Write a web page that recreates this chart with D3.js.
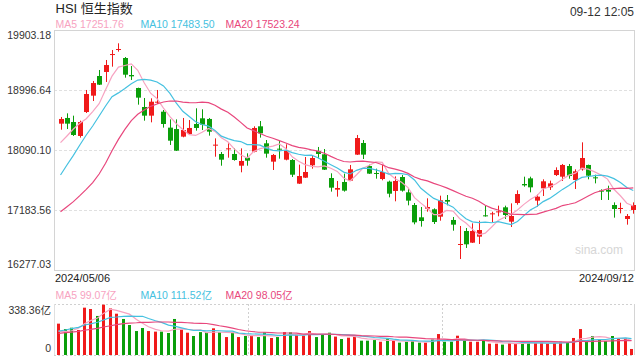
<!DOCTYPE html>
<html>
<head>
<meta charset="utf-8">
<script src="https://cdn.jsdelivr.net/npm/d3@7"></script>
<style>
  body { margin: 0; background: #fff; }
  text { font-family: "Liberation Sans", Arial, "Noto Sans CJK SC", sans-serif; }
</style>
</head>
<body>
<div id="container"></div>
<script>
// daily candles 2024/05/06 - 2024/09/12
let dateLabels = ["2024/05/06", "2024/09/12"];

let openV = [18488,18574,18513,18302,18664,18911,19208,19269,19525,19601,
  19480,19223,19027,18740,18609,18805,18669,18428,18407,18292,
  18332,18483,18569,18559,18156,18030,18100,18030,17853,17974,
  18065,18448,18191,17914,18110,17944,17939,17582,17672,17859,
  18075,18025,17667,17491,17607,17627,18020,18196,17848,17743,
  17652,17612,17471,17682,17451,17259,17073,17204,17194,17083,
  17335,17033,16655,16866,16690,16781,17103,17118,17148,17224,
  17007,17289,17576,17662,17325,17511,17526,17712,17687,17848,
  17637,17798,17864,17677,17476,17486,17259,17199,17048,17184];

let highV = [18589,18644,18609,18533,18997,19133,19299,19450,19601,19702,
  19495,19359,19032,18876,18871,18997,18694,18553,18553,18574,
  18543,18720,18705,18574,18266,18060,18191,18115,18115,18040,
  18448,18528,18241,18030,18226,18176,17954,17869,17984,18000,
  18136,18105,17738,17622,17733,17864,18317,18241,17869,17808,
  17864,17627,17692,17712,17511,17289,17229,17360,17209,17400,
  17410,17078,16942,16912,16982,17022,17244,17158,17249,17249,
  17284,17481,17687,17687,17420,17647,17627,17828,17879,17879,
  17798,18206,17869,17717,17496,17551,17299,17294,17123,17299];

let lowV = [18397,18407,18302,18277,18649,18830,19072,19118,19349,19576,
  19183,19148,18775,18533,18508,18785,18428,18166,18075,18282,
  18322,18382,18392,18307,17989,17853,17974,17929,17753,17853,
  18055,18277,17974,17788,17959,17934,17682,17577,17667,17808,
  17964,17788,17461,17385,17461,17622,18015,17954,17728,17657,
  17632,17375,17315,17461,17254,16967,16932,17158,16972,17022,
  17254,16871,16443,16610,16685,16670,17083,16997,17088,17048,
  16927,17264,17536,17451,17234,17395,17486,17697,17622,17657,
  17501,17778,17647,17586,17335,17335,17068,17133,16962,17128];

let closeV = [18559,18488,18317,18513,18936,19102,19077,19374,19540,19616,
  19228,19203,18881,18609,18820,18820,18483,18231,18080,18392,
  18423,18423,18473,18367,18171,17944,18115,17939,17924,17929,
  18423,18342,18035,18015,18095,18080,17717,17697,17758,17969,
  18030,17793,17521,17516,17476,17798,18271,18020,17733,17733,
  17758,17430,17622,17476,17325,16997,17017,17229,17002,17330,
  17310,16962,16670,16665,16866,16881,17088,17133,17163,17108,
  17093,17425,17556,17526,17385,17617,17586,17788,17864,17697,
  17768,17969,17702,17662,17461,17461,17199,17214,17093,17259];

let ma5 = [18201,18302,18407,18493,18563,18671,18789,19000,19206,19342,
  19367,19392,19294,19107,18948,18867,18723,18593,18487,18401,
  18322,18310,18358,18416,18371,18276,18214,18107,18019,17970,
  18066,18111,18131,18149,18182,18113,17988,17921,17869,17844,
  17834,17849,17814,17766,17667,17621,17716,17816,17860,17911,
  17903,17735,17655,17604,17522,17370,17287,17209,17114,17115,
  17178,17167,17055,16987,16895,16809,16834,16927,17026,17075,
  17117,17184,17269,17342,17397,17502,17534,17580,17648,17710,
  17741,17817,17800,17760,17712,17651,17497,17399,17286,17245];

let ma10 = [17712,17863,18010,18166,18317,18453,18604,18755,18896,18953,
  19019,19091,19147,19157,19145,19117,19058,18944,18797,18675,
  18595,18517,18476,18452,18386,18299,18262,18233,18218,18171,
  18171,18163,18119,18084,18076,18090,18050,18026,18009,18013,
  17974,17919,17868,17818,17756,17728,17783,17815,17813,17789,
  17762,17726,17736,17732,17717,17637,17511,17432,17359,17319,
  17274,17227,17132,17051,17005,16994,17001,16991,17007,16985,
  16963,17009,17098,17184,17236,17310,17359,17425,17495,17554,
  17622,17676,17690,17704,17711,17696,17657,17600,17523,17479];

let ma20 = [17158,17234,17310,17400,17496,17597,17727,17889,18080,18251,
  18402,18533,18629,18694,18750,18785,18815,18830,18830,18814,
  18807,18804,18812,18805,18766,18708,18660,18589,18508,18423,
  18383,18340,18298,18268,18231,18195,18156,18130,18114,18092,
  18073,18041,17994,17951,17916,17909,17917,17921,17911,17901,
  17868,17823,17802,17775,17737,17683,17647,17624,17586,17554,
  17518,17477,17434,17392,17361,17316,17256,17212,17183,17152,
  17119,17118,17115,17118,17121,17152,17180,17208,17251,17270,
  17293,17343,17394,17444,17474,17503,17508,17513,17509,17517];

// turnover, 亿
let vol = [208,172,181,166,314,305,259,334,309,274,
  239,199,159,179,159,155,155,146,239,168,
  148,126,152,150,177,152,119,148,119,126,
  128,119,150,113,119,152,150,137,128,159,
  119,137,148,122,106,115,122,95,95,99,
  88,108,95,82,88,95,82,82,102,139,
  88,88,128,95,88,88,95,75,75,69,
  80,80,82,82,80,84,75,80,88,86,
  113,172,93,126,104,93,126,108,113,40];

let volMa5 = [159,155,161,177,208,228,245,276,304,296,
  283,271,236,210,187,170,161,159,171,173,
  171,165,167,149,151,151,150,149,143,133,
  128,128,128,127,126,131,137,134,137,145,
  139,136,138,137,126,126,123,112,107,105,
  100,97,97,94,92,94,88,86,90,100,
  99,100,109,108,97,97,99,88,84,80,
  79,76,77,79,81,82,81,80,81,83,
  88,108,110,118,122,118,108,111,109,96];

let volMa10 = [159,166,175,183,199,206,217,232,250,252,
  256,258,256,257,242,227,216,198,191,180,
  171,163,163,160,162,161,158,158,146,142,
  140,139,139,135,130,130,133,131,132,136,
  135,137,136,137,136,133,130,125,122,116,
  113,110,105,101,99,97,93,92,92,96,
  97,94,98,99,99,98,100,99,96,89,
  88,88,83,82,81,81,79,79,80,82,
  85,95,95,100,103,103,108,111,114,109];

let volMa20 = [144,148,152,157,164,170,177,186,194,201,
  208,212,214,217,217,219,219,219,217,216,
  214,211,210,209,202,194,187,178,169,161,
  156,151,151,148,146,146,146,145,139,139,
  138,138,138,136,133,132,132,128,127,126,
  124,124,121,119,118,115,112,109,107,106,
  105,102,102,100,99,98,97,96,94,93,
  93,91,91,91,90,90,90,89,88,86,
  87,92,89,91,92,92,94,95,97,96];

let yTicks = [19903.18, 18996.64, 18090.10, 17183.56, 16277.03];
let volTicks = [0, 338.36];

let legendMain = ["MA5 17251.76", "MA10 17483.50", "MA20 17523.24"];
let legendVol = ["MA5 99.07亿", "MA10 111.52亿", "MA20 98.05亿"];

let w = 640;
let h = 360;
let pl = 54, pr = 634, pt = 30, pb = 270;
let vt = 304, vb = 355;
let upColor = "#f01a1a", downColor = "#0a9e0a";
let maColors = ["#f7a3c1", "#45c1e0", "#e8477d"];

let viz = d3.select("#container").append("svg")
    .attr("width", w)
    .attr("height", h)
    .style("display", "block")
;

let x = d3.scaleBand().domain(d3.range(closeV.length)).range([57.3, 636.5]);
let cx = i => x(i) + x.bandwidth() / 2;
let y = d3.scaleLinear().domain([16277.03, 19903.18]).range([pb, pt]);
let yv = d3.scaleLinear().domain([0, 338.36]).range([vb, vt]);

// header
viz.append("text").attr("x", 55.5).attr("y", 13).attr("font-size", 13).attr("fill", "#222")
  .text("HSI 恒生指数");
viz.append("text").attr("x", 634).attr("y", 15.5).attr("font-size", 12).attr("fill", "#333")
  .attr("text-anchor", "end").text("09-12 12:05");

let legX = [55.5, 140.5, 225.5];
viz.selectAll(".legm").data(legendMain).enter().append("text")
  .attr("x", (d, i) => legX[i]).attr("y", 27.5)
  .attr("font-size", 10.5).attr("fill", (d, i) => maColors[i])
  .text(d => d);
viz.selectAll(".legv").data(legendVol).enter().append("text")
  .attr("x", (d, i) => legX[i]).attr("y", 298.5)
  .attr("font-size", 10.5).attr("fill", (d, i) => maColors[i])
  .text(d => d);

// grid main
viz.selectAll(".grid").data(yTicks.slice(1, 4)).enter().append("line")
  .attr("x1", pl).attr("x2", pr)
  .attr("y1", d => Math.round(y(d)) + 0.5).attr("y2", d => Math.round(y(d)) + 0.5)
  .attr("stroke", "#e0e0e0").attr("stroke-dasharray", "3,2");

viz.append("rect").attr("x", pl + 0.5).attr("y", pt + 0.5)
  .attr("width", pr - pl).attr("height", pb - pt)
  .attr("fill", "none").attr("stroke", "#d4d4d4");

// axes
let yAxis = viz.append("g").attr("transform", `translate(${pl},0)`)
  .call(d3.axisLeft(y).tickValues(yTicks).tickSize(0).tickPadding(3).tickFormat(d3.format(".2f")));
yAxis.select(".domain").remove();
yAxis.selectAll("text").attr("font-size", 10.5).attr("fill", "#333")
  .attr("font-family", null)
  .attr("dy", (d, i) => i == 0 ? 8.6 : (i == yTicks.length - 1 ? -2.6 : 3.4));

// watermark
viz.append("text").attr("x", 623).attr("y", 254).attr("font-size", 12)
  .attr("fill", "#d6d6d6").attr("text-anchor", "end").text("sina.com");

// candles
let candles = viz.selectAll(".candle").data(closeV).enter().append("g").attr("class", "candle");
candles.append("line")
  .attr("x1", (d, i) => Math.round(cx(i)) + 0.5).attr("x2", (d, i) => Math.round(cx(i)) + 0.5)
  .attr("y1", (d, i) => y(highV[i])).attr("y2", (d, i) => y(lowV[i]))
  .attr("stroke", (d, i) => d >= openV[i] ? upColor : downColor);
candles.append("rect")
  .attr("x", (d, i) => Math.round(cx(i)) - 2)
  .attr("y", (d, i) => y(Math.max(d, openV[i])))
  .attr("width", 5)
  .attr("height", (d, i) => Math.max(1, Math.abs(y(d) - y(openV[i]))))
  .attr("fill", (d, i) => d >= openV[i] ? upColor : downColor);

// moving averages
let lineMain = d3.line().x((d, i) => cx(i)).y(d => y(d));
[ma5, ma10, ma20].forEach(function(arr, k) {
  viz.append("path").attr("d", lineMain(arr))
    .attr("fill", "none").attr("stroke", maColors[k]).attr("stroke-width", 1.2);
});

// date labels
viz.append("text").attr("x", 55).attr("y", 282).attr("font-size", 11).attr("fill", "#222")
  .text(dateLabels[0]);
viz.append("text").attr("x", 634).attr("y", 282).attr("font-size", 11).attr("fill", "#222")
  .attr("text-anchor", "end").text(dateLabels[1]);

// volume panel
viz.append("line").attr("x1", pl).attr("x2", pr).attr("y1", vt + 0.5).attr("y2", vt + 0.5)
  .attr("stroke", "#d0d0d0").attr("stroke-dasharray", "2,2");
viz.append("line").attr("x1", pl).attr("x2", pr).attr("y1", vb + 0.5).attr("y2", vb + 0.5)
  .attr("stroke", "#d0d0d0").attr("stroke-dasharray", "2,2");
[248.5, 442.5].forEach(function(gx) {
  viz.append("line").attr("x1", gx).attr("x2", gx).attr("y1", vt).attr("y2", vb)
    .attr("stroke", "#d0d0d0").attr("stroke-dasharray", "2,2");
});
viz.append("line").attr("x1", pl + 0.5).attr("x2", pl + 0.5).attr("y1", vt).attr("y2", vb)
  .attr("stroke", "#e0e0e0");
viz.append("line").attr("x1", pr + 0.5).attr("x2", pr + 0.5).attr("y1", vt).attr("y2", vb)
  .attr("stroke", "#d4d4d4");

let vAxis = viz.append("g").attr("transform", `translate(${pl},0)`)
  .call(d3.axisLeft(yv).tickValues(volTicks).tickSize(0).tickPadding(3)
    .tickFormat(d => d ? d.toFixed(2) + "亿" : "0"));
vAxis.select(".domain").remove();
vAxis.selectAll("text").attr("font-size", 10.5).attr("fill", "#333")
  .attr("font-family", null)
  .attr("dy", (d, i) => i == 0 ? -3.3 : 9.1);

viz.selectAll(".vbar").data(vol).enter().append("rect")
  .attr("x", (d, i) => Math.round(x(i)))
  .attr("y", d => yv(d))
  .attr("width", 3)
  .attr("height", d => vb - yv(d))
  .attr("fill", (d, i) => closeV[i] >= openV[i] ? upColor : downColor);

let lineVol = d3.line().x((d, i) => Math.round(x(i)) + 1.5).y(d => yv(d));
[volMa5, volMa10, volMa20].forEach(function(arr, k) {
  viz.append("path").attr("d", lineVol(arr))
    .attr("fill", "none").attr("stroke", maColors[k]).attr("stroke-width", 1.2);
});
</script>
</body>
</html>
